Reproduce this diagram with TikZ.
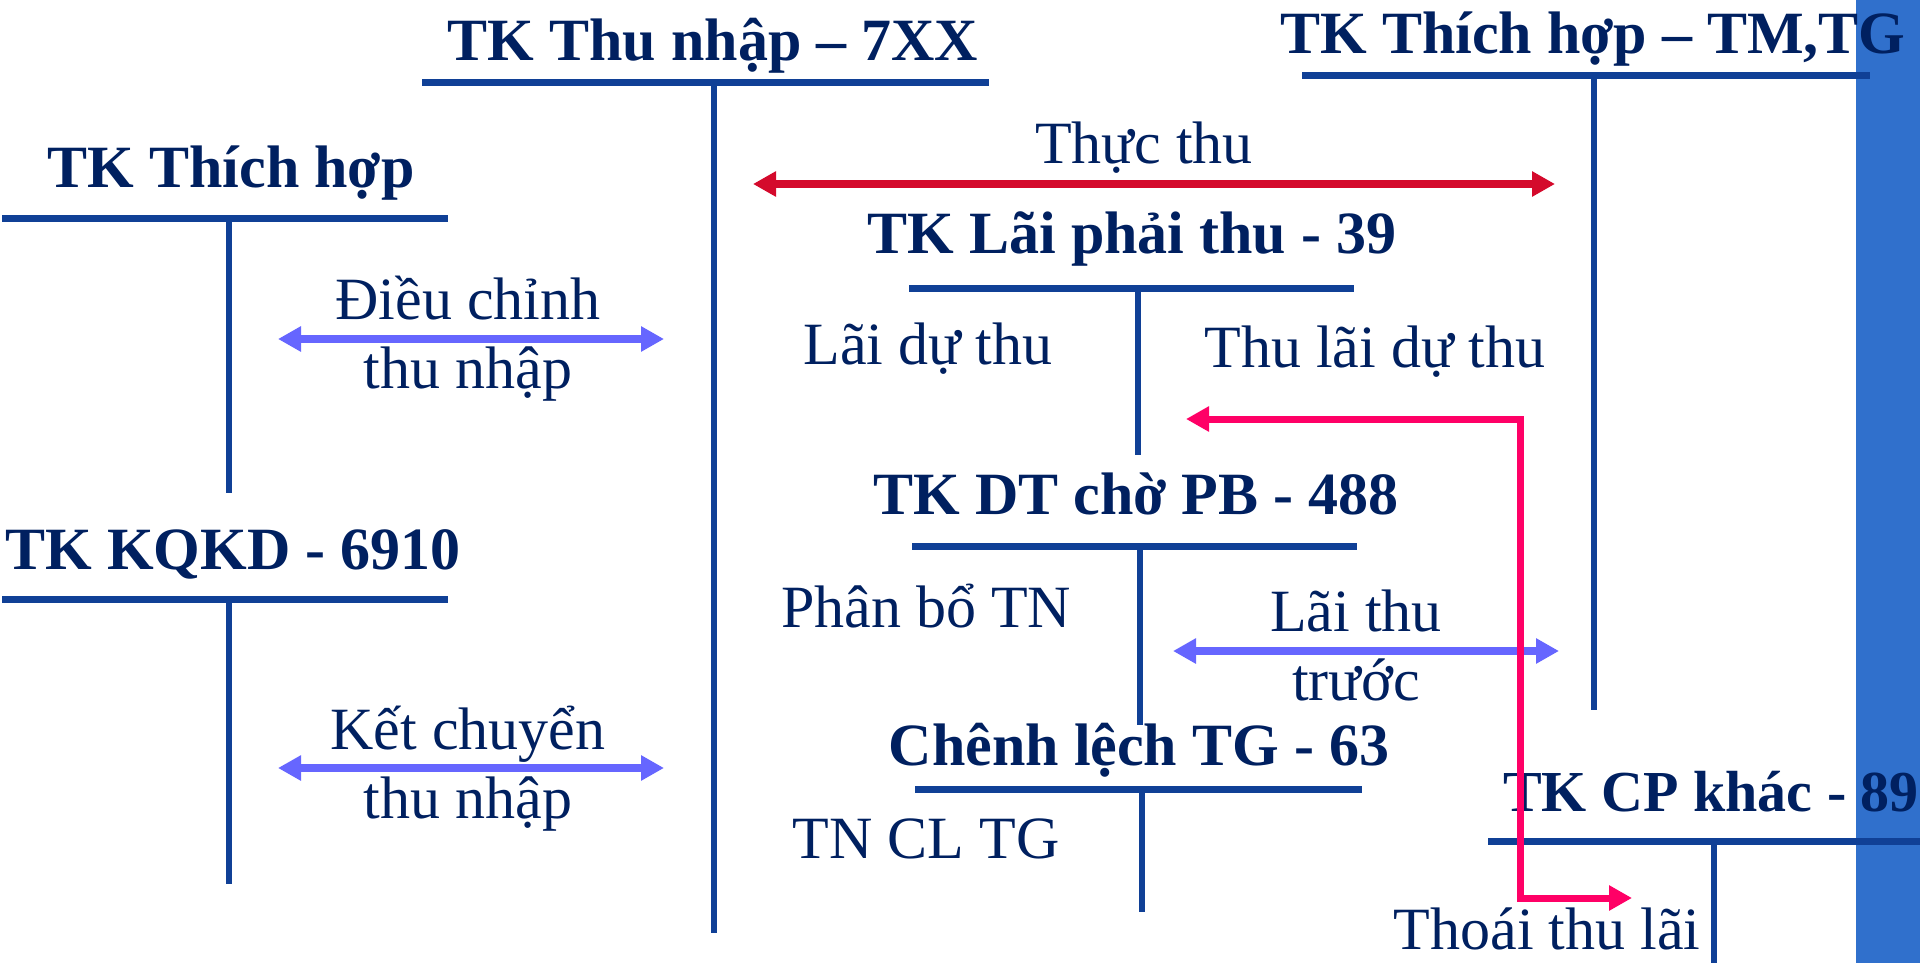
\documentclass[tikz,border=0pt]{standalone}
\usepackage{fontspec}
\setmainfont{Liberation Serif}
\usetikzlibrary{arrows.meta}
\definecolor{txt}{RGB}{0,32,96}
\definecolor{tcol}{RGB}{16,64,150}
\definecolor{redc}{RGB}{212,10,44}
\definecolor{viol}{RGB}{102,102,255}
\definecolor{pinkc}{RGB}{255,0,102}
\definecolor{bandc}{RGB}{48,112,204}
\tikzset{
  ttl/.style={font=\fontsize{60}{68}\selectfont\bfseries, text=txt, inner sep=0pt, anchor=base},
  lbl/.style={font=\fontsize{60}{68}\selectfont, text=txt, inner sep=0pt, anchor=base},
  hbar/.style={draw=tcol, line width=7pt},
  vbar/.style={draw=tcol, line width=6pt},
  dbl/.style={line width=8pt, {Triangle[length=23pt,width=24pt]}-{Triangle[length=23pt,width=24pt]}},
}
\begin{document}
\begin{tikzpicture}[x=1pt,y=-1pt]
\useasboundingbox (0,0) rectangle (1920,963);
\fill[bandc] (1856,0) rectangle (1920,963);

% T-account: TK Thu nhap
\node[ttl] (t1) at (713,61) {TK Thu nhập – 7XX};
\coordinate (t1l) at (422,83); \coordinate (t1r) at (989,83);
\coordinate (t1t) at (714,83); \coordinate (t1b) at (714,933);
\draw[hbar] (t1l) -- (t1r);
\draw[vbar] (t1t) -- (t1b);

% TK Thich hop - TM,TG
\node[ttl] (t2) at (1593,54) {TK Thích hợp – TM,TG};
\coordinate (t2l) at (1302,76); \coordinate (t2r) at (1870,76);
\coordinate (t2t) at (1594,76); \coordinate (t2b) at (1594,710);
\draw[hbar] (t2l) -- (t2r);
\draw[vbar] (t2t) -- (t2b);

% TK Thich hop (left)
\node[ttl] (t3) at (231,187) {TK Thích hợp};
\coordinate (t3l) at (2,218); \coordinate (t3r) at (448,218);
\coordinate (t3t) at (229,218); \coordinate (t3b) at (229,493);
\draw[hbar] (t3l) -- (t3r);
\draw[vbar] (t3t) -- (t3b);

% TK KQKD
\node[ttl] (t4) at (233,569) {TK KQKD - 6910};
\coordinate (t4l) at (2,599); \coordinate (t4r) at (448,599);
\coordinate (t4t) at (229,599); \coordinate (t4b) at (229,884);
\draw[hbar] (t4l) -- (t4r);
\draw[vbar] (t4t) -- (t4b);

% Dieu chinh
\node[lbl] (d1) at (468,319) {Điều chỉnh};
\node[lbl] (d2) at (468,388) {thu nhập};
\coordinate (a1l) at (278,339); \coordinate (a1r) at (664,339);
\draw[dbl, viol] (a1l) -- (a1r);

% Ket chuyen
\node[lbl] (k1) at (468,749) {Kết chuyển};
\node[lbl] (k2) at (468,818) {thu nhập};
\coordinate (a2l) at (278,768); \coordinate (a2r) at (664,768);
\draw[dbl, viol] (a2l) -- (a2r);

% Thuc thu
\node[lbl] (tt) at (1144,164) {Thực thu};
\coordinate (a3l) at (753,184); \coordinate (a3r) at (1555,184);
\draw[dbl, redc] (a3l) -- (a3r);

% TK Lai phai thu
\node[ttl] (t5) at (1132,253) {TK Lãi phải thu - 39};
\coordinate (t5l) at (909,288); \coordinate (t5r) at (1354,288);
\coordinate (t5t) at (1138,288); \coordinate (t5b) at (1138,455);
\draw[hbar] (t5l) -- (t5r);
\draw[vbar] (t5t) -- (t5b);
\node[lbl] (l1) at (928,364) {Lãi dự thu};
\node[lbl] (l2) at (1375,367) {Thu lãi dự thu};

% TK DT cho PB
\node[ttl] (t6) at (1136,514) {TK DT chờ PB - 488};
\coordinate (t6l) at (912,546); \coordinate (t6r) at (1357,546);
\coordinate (t6t) at (1140,546); \coordinate (t6b) at (1140,725);
\draw[hbar] (t6l) -- (t6r);
\draw[vbar] (t6t) -- (t6b);
\node[lbl] (p1) at (926,627) {Phân bổ TN};
\node[lbl] (lt1) at (1356,631) {Lãi thu};
\node[lbl] (lt2) at (1356,700) {trước};
\coordinate (a4l) at (1173,651); \coordinate (a4r) at (1559,651);
\draw[dbl, viol] (a4l) -- (a4r);

% Chenh lech TG
\node[ttl] (t7) at (1139,765) {Chênh lệch TG - 63};
\coordinate (t7l) at (915,789); \coordinate (t7r) at (1362,789);
\coordinate (t7t) at (1142,789); \coordinate (t7b) at (1142,912);
\draw[hbar] (t7l) -- (t7r);
\draw[vbar] (t7t) -- (t7b);
\node[lbl] (c1) at (926,858) {TN CL TG};

% TK CP khac
\node[ttl, font=\fontsize{58}{66}\selectfont\bfseries, anchor=base east] (t8) at (1919,811) {TK CP khác - 89};
\coordinate (t8l) at (1488,841); \coordinate (t8r) at (1920,841);
\coordinate (t8t) at (1714,841); \coordinate (t8b) at (1714,963);
\draw[hbar] (t8l) -- (t8r);
\draw[vbar] (t8t) -- (t8b);
\node[lbl] (th) at (1547,949) {Thoái thu lãi};

% pink path
\coordinate (q1) at (1186,419); \coordinate (q2) at (1520,419);
\coordinate (q3) at (1520,898); \coordinate (q4) at (1632,898);
\draw[pinkc, line width=7pt, {Triangle[length=23pt,width=24pt]}-{Triangle[length=23pt,width=24pt]}] (q1) -- (q2) -- (q3) -- (q4);
\end{tikzpicture}
\end{document}
